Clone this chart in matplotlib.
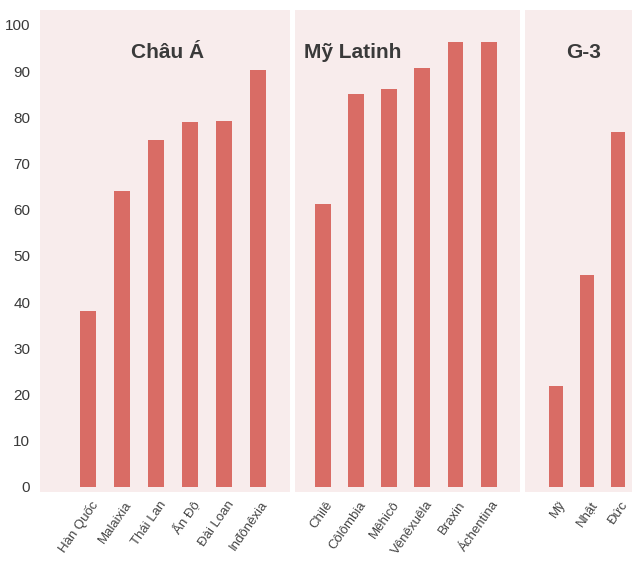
import matplotlib.pyplot as plt

plt.rcParams['font.family'] = ['Liberation Sans', 'DejaVu Sans']

groups = ["Châu Á", "Mỹ Latinh", "G-3"]
asia_labels = ["Hàn Quốc", "Malaixia", "Thái Lan", "Ấn Độ", "Đài Loan", "Inđônêxia"]
asia_values = [38, 64, 75, 79, 79.2, 90.3]
latam_labels = ["Chilê", "Côlômbia", "Mêhicô", "Vênêxuêla", "Braxin", "Áchentina"]
latam_values = [61.3, 85.1, 86.1, 90.7, 96.3, 96.3]
g3_labels = ["Mỹ", "Nhật", "Đức"]
g3_values = [21.9, 45.9, 76.8]

bar_color = "#d96c65"
bg_color = "#f8ecec"
text_color = "#3a3a3a"

fig = plt.figure(figsize=(6.32, 5.65), dpi=100)

# panel layout in pixels: (left, right, xlim, labels, values, title x)
W, H = 632, 565
panels = [
    (40, 290, (-1.42, 5.95), asia_labels, asia_values, 0.51),
    (295, 520, (-0.85, 5.95), latam_labels, latam_values, 0.255),
    (525, 632, (-1.0, 2.45), g3_labels, g3_values, 0.55),
]
bottom_px, top_px = 492, 10

for i, (l, r, xlim, labels, values, tx) in enumerate(panels):
    ax = fig.add_axes([l / W, (H - bottom_px) / H, (r - l) / W, (bottom_px - top_px) / H])
    ax.set_facecolor(bg_color)
    x = range(len(values))
    ax.bar(x, values, width=0.48, color=bar_color, zorder=2)
    ax.set_xlim(*xlim)
    ax.set_ylim(-1.1, 103.2)
    for s in ax.spines.values():
        s.set_visible(False)
    ax.set_xticks([v + 0.08 for v in x])
    ax.set_xticklabels(labels, rotation=55, ha="right", va="top",
                       rotation_mode="anchor", fontsize=9.5, color="#444444")
    ax.tick_params(axis="x", length=0, pad=5)
    if i == 0:
        ax.set_yticks(range(0, 101, 10))
        ax.tick_params(axis="y", length=0, pad=7, labelsize=11, labelcolor=text_color)
    else:
        ax.set_yticks([])
    ax.text(tx, 0.911, groups[i], transform=ax.transAxes, ha="center", va="center",
            fontsize=15, fontweight="bold", color=text_color)

fig.savefig("out.png", dpi=100)
